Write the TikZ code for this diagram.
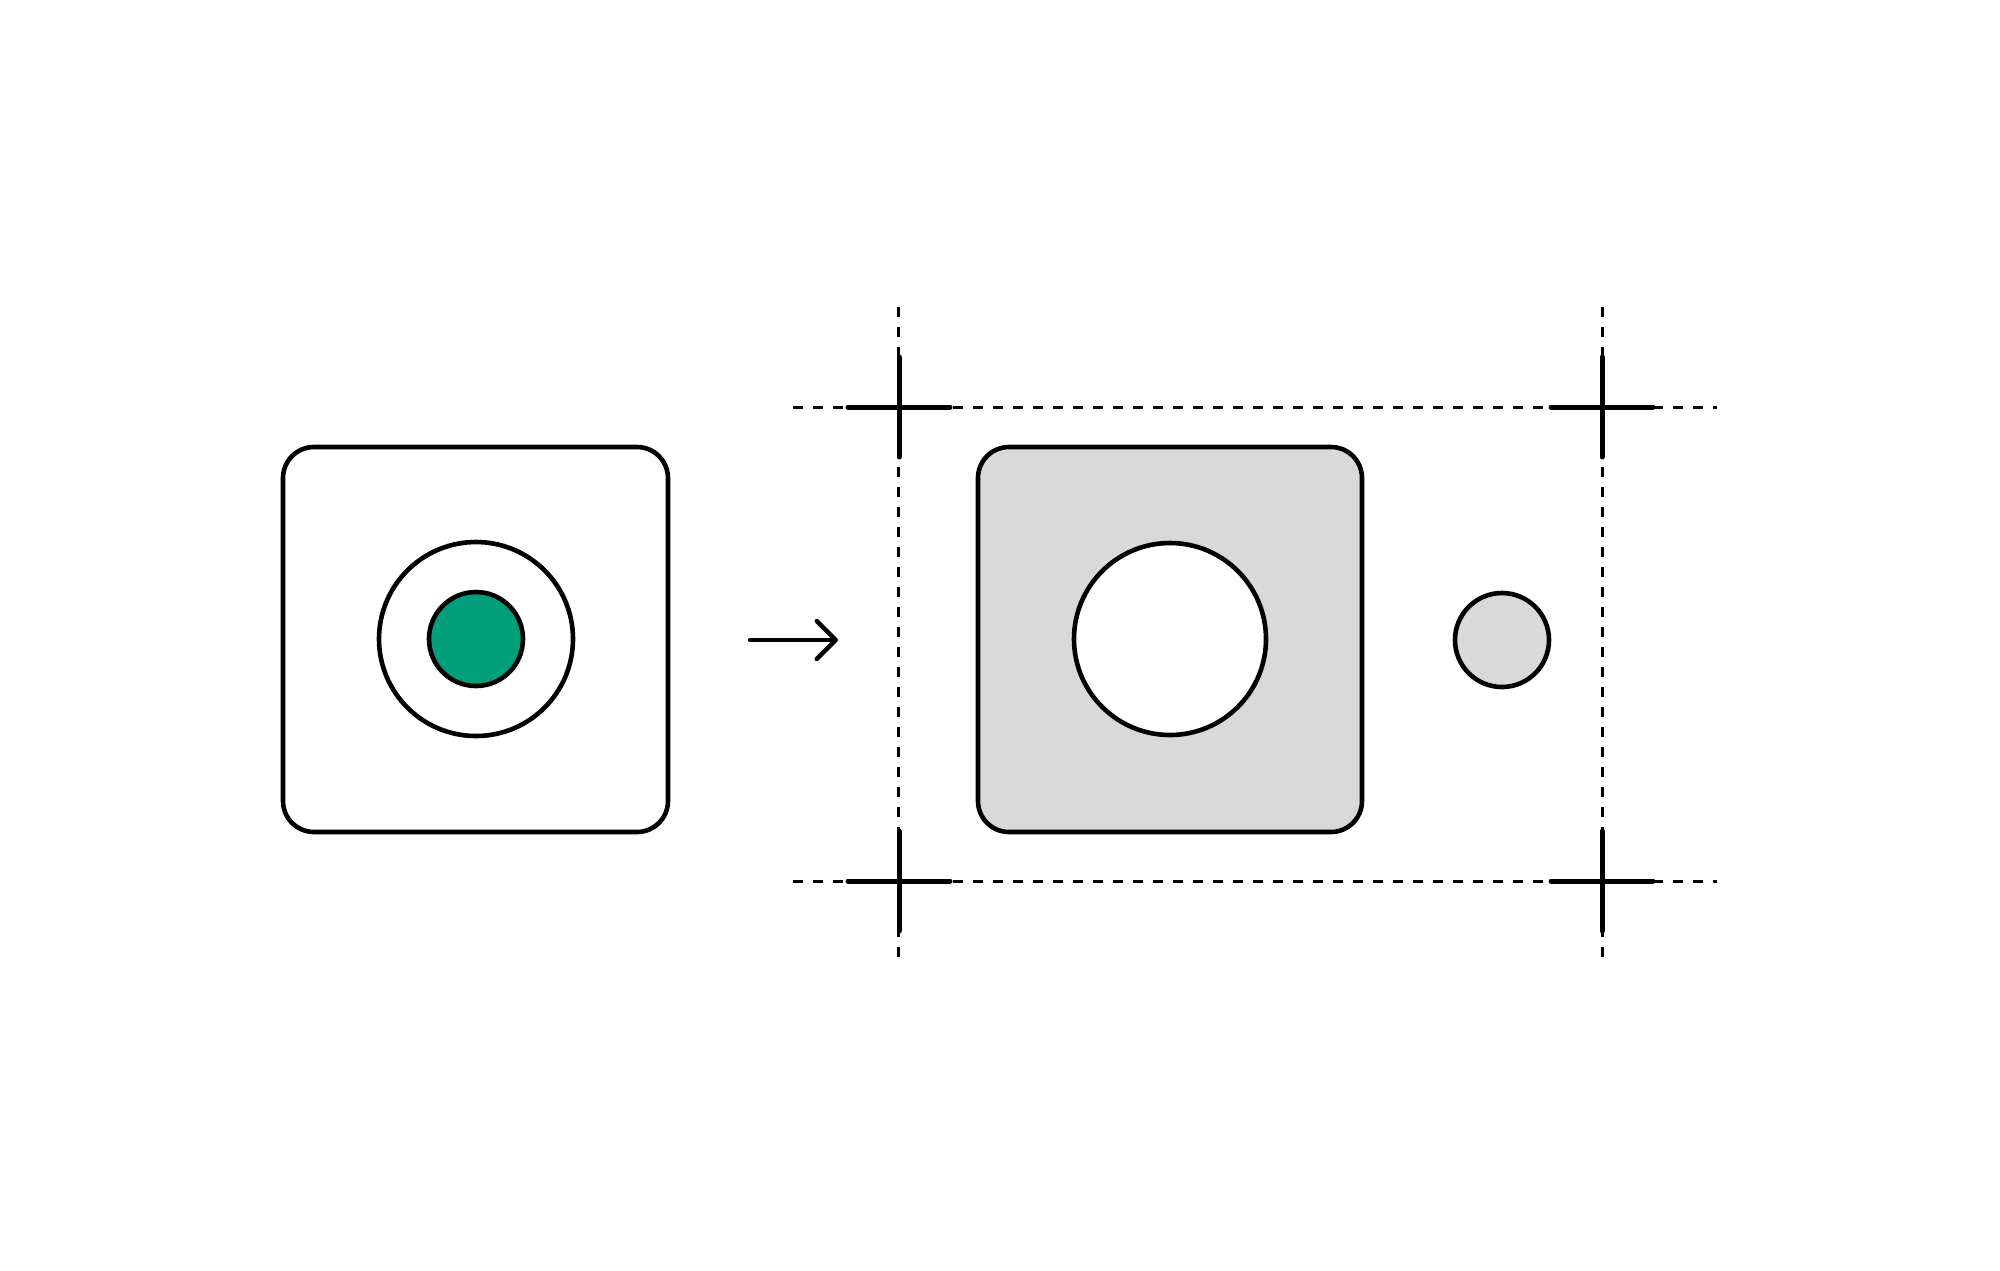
\documentclass[tikz,border=0pt]{standalone}
\usetikzlibrary{arrows.meta}
\definecolor{tealgreen}{RGB}{0,158,122}
\definecolor{lightgray}{RGB}{217,217,217}
\begin{document}
\begin{tikzpicture}[x=1pt,y=-1pt,
  box/.style={draw=black,line width=4.6pt,rounded corners=31pt,minimum width=385pt,minimum height=385pt,inner sep=0pt},
  ring/.style={draw=black,line width=4.6pt,circle,inner sep=0pt},
  guide/.style={draw=black,line width=3pt,dash pattern=on 10pt off 10pt},
  crossarm/.style={draw=black,line width=5pt,line cap=round},
  flow/.style={draw=black,line width=4.4pt,line cap=round,-{Straight Barb[length=19pt,width=38pt,line width=4.4pt,round]}}]
\useasboundingbox (0,0) rectangle (2000,1270);
% left item
\node[box,fill=white] (src) at (475.5,639.5) {};
\node[ring,minimum size=194pt] (srcouter) at (476,639) {};
\node[ring,fill=tealgreen,minimum size=94pt] (srcinner) at (476,639) {};
% arrow
\coordinate (a0) at (750,640);
\coordinate (a1) at (838,640);
\draw[flow] (a0) -- (a1);
% guides
\coordinate (vlt) at (898,307); \coordinate (vlb) at (898,962);
\coordinate (vrt) at (1602,307); \coordinate (vrb) at (1602,962);
\coordinate (htl) at (793,407); \coordinate (htr) at (1717,407);
\coordinate (hbl) at (793,881); \coordinate (hbr) at (1717,881);
\draw[guide] (vlt) -- (vlb);
\draw[guide] (vrt) -- (vrb);
\draw[guide] (htl) -- (htr);
\draw[guide] (hbl) -- (hbr);
% crosses
\foreach \cx/\cy in {899/407,1602/407,899/881,1602/881}{
  \draw[crossarm] (\cx-51,\cy) -- (\cx+51,\cy);
  \draw[crossarm] (\cx,\cy-50) -- (\cx,\cy+50);
}
% right item
\node[box,fill=lightgray,minimum width=384pt] (dst) at (1170,639.5) {};
\node[ring,fill=white,minimum size=192pt] (dsthole) at (1170,639) {};
\node[ring,fill=lightgray,minimum size=94pt] (dstdot) at (1502,640) {};
\end{tikzpicture}
\end{document}
